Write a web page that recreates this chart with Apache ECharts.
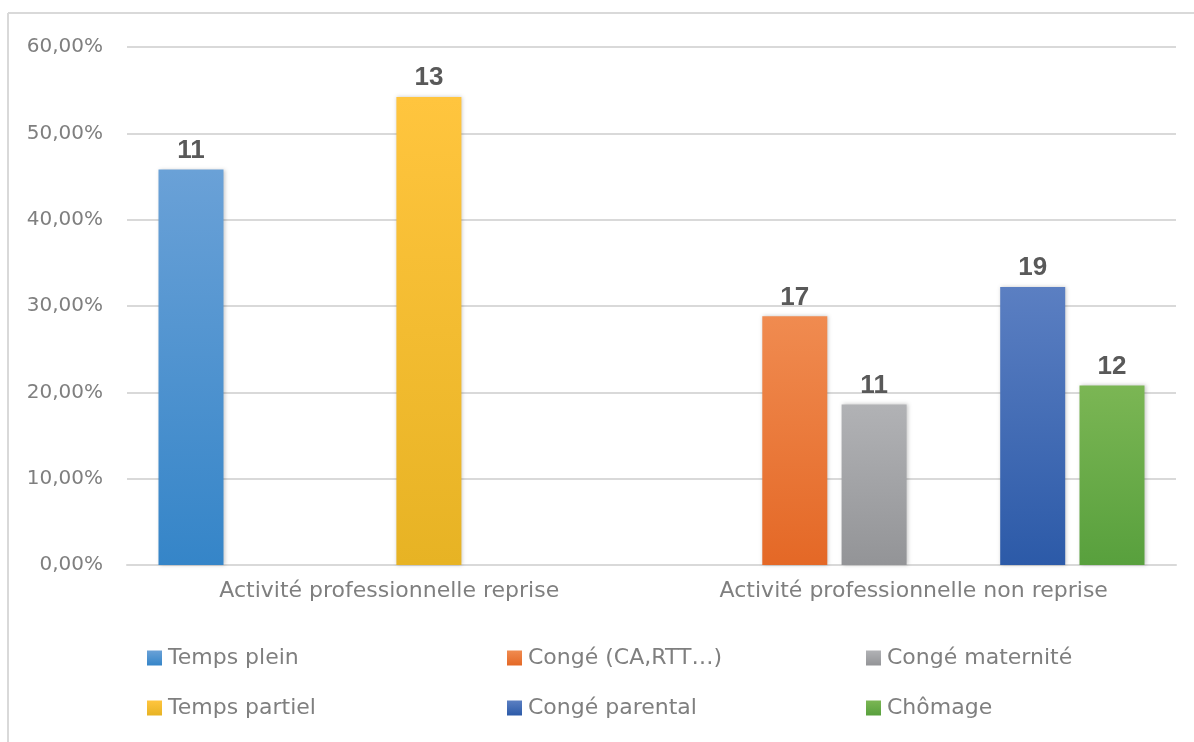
<!DOCTYPE html>
<html>
<head>
<meta charset="utf-8">
<script src="https://cdn.jsdelivr.net/npm/echarts@6/dist/echarts.min.js"></script>
<style>
html,body{margin:0;padding:0;background:#fff;}
#chart{width:1194px;height:742px;}
</style>
</head>
<body>
<div id="chart"></div>
<script>
// ---- Data ----
const categories = ['Activité professionnelle reprise', 'Activité professionnelle non reprise'];
const seriesNames = ['Temps plein', 'Congé (CA,RTT…)', 'Congé maternité', 'Temps partiel', 'Congé parental', 'Chômage'];
// percentages (share within category)
const tempsPlein     = [45.8, null];
const conge          = [null, 28.8];
const congeMaternite = [null, 18.6];
const tempsPartiel   = [54.2, null];
const congeParental  = [null, 32.2];
const chomage        = [null, 20.8];
// counts displayed as data labels
const countsTempsPlein     = [11, null];
const countsConge          = [null, 17];
const countsCongeMaternite = [null, 11];
const countsTempsPartiel   = [13, null];
const countsCongeParental  = [null, 19];
const countsChomage        = [null, 12];
const yTicks = [0, 10, 20, 30, 40, 50, 60];

const values = [tempsPlein, conge, congeMaternite, tempsPartiel, congeParental, chomage];
const counts = [countsTempsPlein, countsConge, countsCongeMaternite, countsTempsPartiel, countsCongeParental, countsChomage];
const gradients = [
  ['#6aa1d7', '#3585c8'],
  ['#f08b50', '#e46826'],
  ['#b1b2b5', '#939497'],
  ['#ffc53e', '#e7b324'],
  ['#5b7fc2', '#2c5aa8'],
  ['#7bb654', '#58a03d']
];
function grad(c){
  return new echarts.graphic.LinearGradient(0,0,0,1,[{offset:0,color:c[0]},{offset:1,color:c[1]}]);
}
const FONT = '"DejaVu Sans", sans-serif';
const LFONT = '"Liberation Sans", Arial, sans-serif';

const series = seriesNames.map((name, i) => ({
  name: name,
  type: 'bar',
  data: values[i],
  barWidth: 65,
  barGap: '22%',
  itemStyle: {
    color: grad(gradients[i]),
    shadowBlur: 4,
    shadowColor: 'rgba(0,0,0,0.22)',
    shadowOffsetX: 1
  },
  label: {
    show: true,
    position: 'top',
    distance: 6,
    color: '#595959',
    fontFamily: LFONT,
    fontWeight: 'bold',
    fontSize: 26,
    formatter: p => counts[i][p.dataIndex]
  }
}));

// legends: 3 columns x 2 rows
const legendPos = [
  {name: 'Temps plein', left: 147, top: 647},
  {name: 'Congé (CA,RTT…)', left: 507, top: 647},
  {name: 'Congé maternité', left: 866, top: 647},
  {name: 'Temps partiel', left: 147, top: 697},
  {name: 'Congé parental', left: 507, top: 697},
  {name: 'Chômage', left: 866, top: 697}
];
const legends = legendPos.map(l => ({
  data: [l.name],
  left: l.left,
  top: l.top,
  padding: 0,
  itemWidth: 15,
  itemHeight: 15,
  itemGap: 5,
  icon: 'rect',
  textStyle: {color: '#7f7f7f', fontSize: 22, fontFamily: FONT, padding: [0,0,0,1]},
  selectedMode: false
}));

const chart = echarts.init(document.getElementById('chart'), null, {renderer: 'canvas'});
chart.setOption({
  animation: false,
  backgroundColor: '#fff',
  graphic: [
    {type: 'line', shape: {x1: 8, y1: 13, x2: 1194, y2: 13}, style: {stroke: '#d9d9d9', lineWidth: 2}, z: 100},
    {type: 'line', shape: {x1: 8, y1: 13, x2: 8, y2: 742}, style: {stroke: '#d9d9d9', lineWidth: 2}, z: 100}
  ],
  grid: {left: 127, right: 18, top: 47, bottom: 177, containLabel: false},
  legend: legends,
  xAxis: {
    type: 'category',
    data: categories,
    axisLine: {show: true, lineStyle: {color: '#d9d9d9', width: 2}},
    axisTick: {show: false},
    axisLabel: {color: '#7f7f7f', fontSize: 22, fontFamily: FONT, margin: 15}
  },
  yAxis: {
    type: 'value',
    min: yTicks[0],
    max: yTicks[yTicks.length - 1],
    interval: 10,
    axisLine: {show: false},
    axisTick: {show: false},
    splitLine: {lineStyle: {color: '#d9d9d9', width: 2}},
    axisLabel: {
      color: '#7f7f7f', fontSize: 20, fontFamily: FONT, margin: 24,
      formatter: v => v.toFixed(2).replace('.', ',') + '%'
    }
  },
  series: series
});
</script>
</body>
</html>
